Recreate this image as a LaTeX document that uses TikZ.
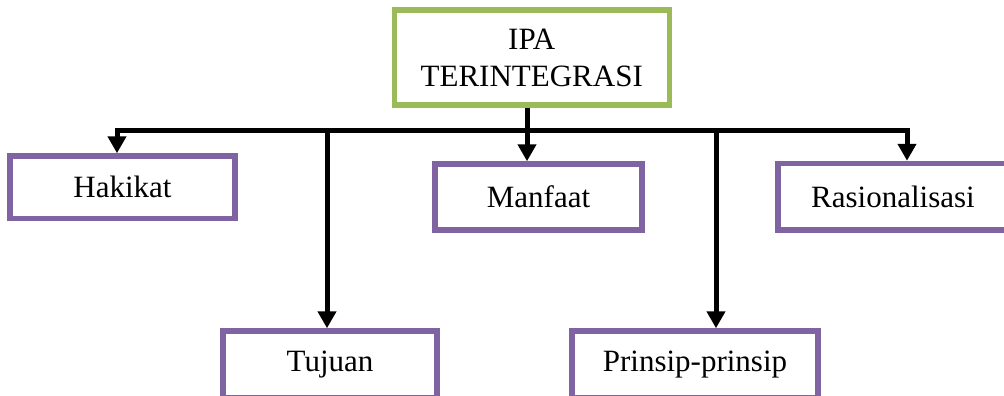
\documentclass[tikz,border=0pt]{standalone}
\usepackage{fontspec}
\setmainfont{Liberation Serif}
\usetikzlibrary{positioning,calc,arrows.meta}
\definecolor{CGreen}{HTML}{9BBB59}
\definecolor{CPurple}{HTML}{8064A2}

\begin{document}
\begin{tikzpicture}[x=1pt, y=-1pt,
    every node/.style={align=center, font=\fontsize{31}{37}\selectfont},
    box/.style={draw=CPurple, line width=5.5pt, fill=white, inner sep=0pt},
    link/.style={line width=5pt, -{Triangle[width=18pt,length=17pt]}}]
  \useasboundingbox (0,0) rectangle (1004,396);
  \node[box, draw=CGreen, minimum width=275pt, minimum height=95pt] (ipa) at (531.75,57.5) {IPA\\TERINTEGRASI};
  % purple boxes: name/x/y/width/height/text
  \foreach \nm/\cx/\cy/\w/\h/\txt in {%
    hakikat/122.5/187.25/225/62.5/Hakikat,
    manfaat/538.5/197/207/66/Manfaat,
    rasional/893/196.75/230/66.5/Rasionalisasi,
    tujuan/330/364.5/214/67/Tujuan,
    prinsip/695/364.5/246/67/Prinsip-prinsip}{
    \node[box, minimum width=\w pt, minimum height=\h pt] (\nm) at (\cx,\cy) {\txt};
  }
  % where the drops leave the bar
  \coordinate (cH) at (117,130);
  \coordinate (cT) at (327,130);
  \coordinate (cM) at (527,130);
  \coordinate (cP) at (716,130);
  \coordinate (cR) at (907,130);
  \draw[line width=5pt, line cap=rect] (cH) -- (cR);
  \draw[link] (ipa.south -| cM) -- (cM |- manfaat.north);
  \foreach \c/\nm in {cH/hakikat, cT/tujuan, cP/prinsip, cR/rasional}{
    \draw[link] (\c) -- (\c |- \nm.north);
  }
\end{tikzpicture}
\end{document}
